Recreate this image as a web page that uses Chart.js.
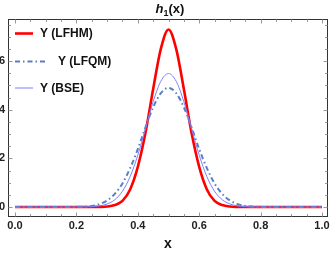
<!DOCTYPE html>
<html lang="en">
<head>
<meta charset="UTF-8">
<title>h1(x)</title>
<script src="https://cdn.jsdelivr.net/npm/chart.js"></script>
<style>
  body { margin: 0; background: #fff; }
  .chart-box { width: 332px; height: 253px; }
</style>
</head>
<body>
<div class="chart-box"><canvas id="hChart" width="332" height="253"></canvas></div>
<script>
// x grid of the curves
const xs = [0, 0.025, 0.05, 0.075, 0.1, 0.125, 0.15, 0.175, 0.2, 0.225,
            0.25, 0.275, 0.3, 0.325, 0.35, 0.375, 0.4, 0.425, 0.45, 0.475,
            0.5, 0.525, 0.55, 0.575, 0.6, 0.625, 0.65, 0.675, 0.7, 0.725,
            0.75, 0.775, 0.8, 0.825, 0.85, 0.875, 0.9, 0.925, 0.95, 0.975, 1];

// values
const yLFHM = [0, 0, 0, 0, 0, 0, 0, 0, 0, 0,
               0, 0.005, 0.02, 0.08, 0.25, 0.72, 1.65, 3.05, 4.85, 6.5,
               7.3, 6.5, 4.85, 3.05, 1.65, 0.72, 0.25, 0.08, 0.02, 0.005,
               0, 0, 0, 0, 0, 0, 0, 0, 0, 0, 0];
const yLFQM = [0, 0, 0, 0, 0, 0, 0, 0, 0.006, 0.016,
               0.044, 0.12, 0.27, 0.54, 0.97, 1.6, 2.38, 3.28, 4.1, 4.68,
               4.9, 4.68, 4.1, 3.28, 2.38, 1.6, 0.97, 0.54, 0.27, 0.12,
               0.044, 0.016, 0.006, 0, 0, 0, 0, 0, 0, 0, 0];
const yBSE  = [0, 0, 0, 0, 0, 0, 0, 0, 0.001, 0.004,
               0.015, 0.046, 0.125, 0.3, 0.65, 1.25, 2.13, 3.22, 4.33, 5.17,
               5.49, 5.17, 4.33, 3.22, 2.13, 1.25, 0.65, 0.3, 0.125, 0.046,
               0.015, 0.004, 0.001, 0, 0, 0, 0, 0, 0, 0, 0];

const seriesNames = ['Y (LFHM)', 'Y (LFQM)', 'Y (BSE)'];
const xTicks = [0, 0.2, 0.4, 0.6, 0.8, 1.0];
const yTicks = [0, 2, 4, 6];

const FONT = '"Liberation Sans", Arial, sans-serif';
const toPts = ys => xs.map((x, i) => ({x: x, y: ys[i]}));

// Mathematica-like frame with ticks on all four sides
const framePlugin = {
    id: 'frame',
    afterDraw(chart) {
        const ctx = chart.ctx, a = chart.chartArea;
        const sx = chart.scales.x, sy = chart.scales.y;
        const L = a.left + 0.5, R = a.right - 0.5, T = a.top + 0.5, B = a.bottom - 0.5;
        ctx.save();
        ctx.strokeStyle = '#333';
        ctx.lineWidth = 1;
        ctx.strokeRect(L, T, R - L, B - T);
        ctx.strokeStyle = '#999';
        ctx.beginPath();
        for (let k = 0; k <= 20; k++) {
            const v = k * 0.05;
            const len = (k % 4 === 0) ? 4 : 2.5;
            const px = Math.round(sx.getPixelForValue(v)) + 0.5;
            ctx.moveTo(px, B); ctx.lineTo(px, B - len);
            ctx.moveTo(px, T); ctx.lineTo(px, T + len);
        }
        for (let k = 0; k <= 15; k++) {
            const v = k * 0.5;
            const len = (k % 4 === 0) ? 4 : 2.5;
            const py = Math.round(sy.getPixelForValue(v)) + 0.5;
            ctx.moveTo(L, py); ctx.lineTo(L + len, py);
            ctx.moveTo(R, py); ctx.lineTo(R - len, py);
        }
        ctx.stroke();
        ctx.restore();
    }
};

// title h_1(x)
const titlePlugin = {
    id: 'mathTitle',
    afterDraw(chart) {
        const ctx = chart.ctx;
        const parts = [
            {t: 'h', f: 'italic bold 13px ' + FONT, dy: 0},
            {t: '1', f: 'bold 9px ' + FONT, dy: 2.5},
            {t: '(x)', f: 'bold 13px ' + FONT, dy: 0}
        ];
        ctx.save();
        let w = 0;
        parts.forEach(p => { ctx.font = p.f; p.w = ctx.measureText(p.t).width; w += p.w; });
        let x = 170 - w / 2;
        ctx.fillStyle = '#111';
        ctx.textBaseline = 'alphabetic';
        parts.forEach(p => { ctx.font = p.f; ctx.fillText(p.t, x, 13 + p.dy); x += p.w; });
        ctx.restore();
    }
};

// legend drawn inside the frame, top left
const legendPlugin = {
    id: 'insideLegend',
    afterDraw(chart) {
        const ctx = chart.ctx;
        const spots = [
            {x1: 15, x2: 33, y: 33.5, tx: 40},
            {x1: 15, x2: 48, y: 61.5, tx: 58},
            {x1: 15, x2: 33, y: 88, tx: 40}
        ];
        ctx.save();
        chart.data.datasets.forEach((ds, i) => {
            const s = spots[i];
            ctx.strokeStyle = ds.borderColor;
            ctx.lineWidth = ds.borderWidth;
            ctx.setLineDash(ds.borderDash || []);
            ctx.beginPath();
            ctx.moveTo(s.x1, s.y); ctx.lineTo(s.x2, s.y);
            ctx.stroke();
            ctx.setLineDash([]);
            ctx.fillStyle = '#111';
            ctx.font = 'bold 12px ' + FONT;
            ctx.textBaseline = 'middle';
            ctx.fillText(ds.label, s.tx, s.y + 0.5);
        });
        ctx.restore();
    }
};

const ctx = document.getElementById('hChart').getContext('2d');
const hChart = new Chart(ctx, {
    type: 'line',
    data: {
        datasets: [{
            label: seriesNames[0],
            data: toPts(yLFHM),
            borderColor: '#ff0000',
            borderWidth: 2.6,
            order: 3
        }, {
            label: seriesNames[1],
            data: toPts(yLFQM),
            borderColor: '#5a7ec0',
            borderWidth: 2,
            borderDash: [5, 3, 1.5, 3],
            order: 2
        }, {
            label: seriesNames[2],
            data: toPts(yBSE),
            borderColor: '#7f7fff',
            borderWidth: 1,
            order: 1
        }]
    },
    options: {
        responsive: false,
        animation: false,
        devicePixelRatio: 1,
        layout: { padding: { top: 19, right: 4, left: 0, bottom: 0 } },
        elements: {
            point: { radius: 0 },
            line: { cubicInterpolationMode: 'monotone', fill: false }
        },
        plugins: {
            legend: { display: false },
            tooltip: { enabled: false },
            title: { display: false }
        },
        scales: {
            x: {
                type: 'linear',
                min: -0.0228,
                max: 1.0195,
                afterFit(s) { s.height = 36; },
                afterBuildTicks(s) { s.ticks = xTicks.map(v => ({value: v})); },
                grid: { display: false, drawTicks: false },
                border: { display: false },
                ticks: {
                    autoSkip: false,
                    maxRotation: 0,
                    padding: 2,
                    color: '#222',
                    font: { family: FONT, size: 11, weight: 'bold' },
                    callback: v => v.toFixed(1)
                },
                title: {
                    display: true,
                    text: 'x',
                    color: '#111',
                    font: { family: FONT, size: 14, weight: 'bold' },
                    padding: { top: 0, bottom: 0 }
                }
            },
            y: {
                min: -0.41,
                max: 7.73,
                afterFit(s) { s.width = 8; },
                afterBuildTicks(s) { s.ticks = yTicks.map(v => ({value: v})); },
                grid: { display: false, drawTicks: false },
                border: { display: false },
                ticks: {
                    padding: 3,
                    color: '#222',
                    font: { family: FONT, size: 11, weight: 'bold' },
                    callback: v => String(v)
                }
            }
        }
    },
    plugins: [framePlugin, titlePlugin, legendPlugin]
});
</script>
</body>
</html>
